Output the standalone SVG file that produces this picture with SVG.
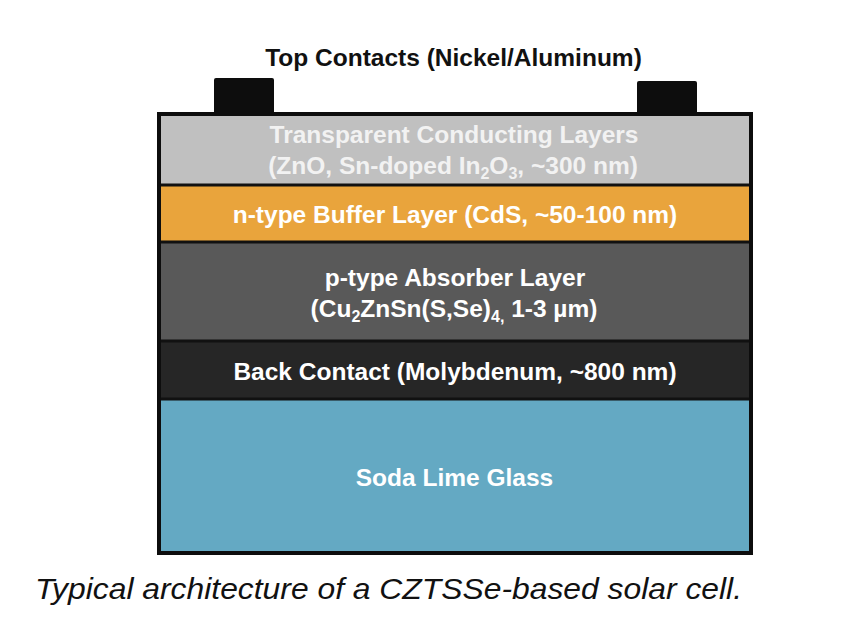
<svg xmlns="http://www.w3.org/2000/svg" width="852" height="632" viewBox="0 0 852 632">
<style>
.t{font-family:"Liberation Sans",Arial,sans-serif;font-weight:bold;font-size:24.5px;text-anchor:middle;fill:#ffffff}
.s{font-size:16px}
.sep{stroke:#111;stroke-width:3}
</style>
<rect width="852" height="632" fill="#ffffff"/>
<g id="top-contacts">
<text x="453.5" y="65.5" class="t" style="fill:#111">Top Contacts (Nickel/Aluminum)</text>
<rect x="214" y="78" width="60" height="38" rx="2" fill="#0d0d0d"/>
<rect x="637" y="81" width="60" height="35" rx="2" fill="#0d0d0d"/>
</g>
<g id="tcl">
<rect x="159" y="114" width="592" height="71" fill="#c0c0c0"/>
<text x="454" y="142.5" class="t" style="fill:#f2f2f2">Transparent Conducting Layers</text>
<text x="453" y="173.5" class="t" style="fill:#f2f2f2">(ZnO, Sn-doped In<tspan class="s" dy="5">2</tspan><tspan dy="-5">O</tspan><tspan class="s" dy="5">3</tspan><tspan dy="-5">, ~300 nm)</tspan></text>
</g>
<g id="buffer">
<rect x="159" y="185" width="592" height="57" fill="#e9a43c"/>
<text x="455" y="222.5" class="t">n-type Buffer Layer (CdS, ~50-100 nm)</text>
</g>
<g id="absorber">
<rect x="159" y="242" width="592" height="99" fill="#595959"/>
<text x="455" y="285.5" class="t">p-type Absorber Layer</text>
<text x="454" y="316.5" class="t">(Cu<tspan class="s" dy="5">2</tspan><tspan dy="-5">ZnSn(S,Se)</tspan><tspan class="s" dy="5">4,</tspan><tspan dy="-5"> 1-3 µm)</tspan></text>
</g>
<g id="back-contact">
<rect x="159" y="341" width="592" height="58" fill="#262626"/>
<text x="455" y="379.5" class="t">Back Contact (Molybdenum, ~800 nm)</text>
</g>
<g id="glass">
<rect x="159" y="399" width="592" height="154" fill="#64a9c3"/>
<text x="454.5" y="485.5" class="t">Soda Lime Glass</text>
</g>
<g id="connectors">
<line x1="159" y1="185" x2="751" y2="185" class="sep"/>
<line x1="159" y1="242" x2="751" y2="242" class="sep"/>
<line x1="159" y1="341" x2="751" y2="341" class="sep"/>
<line x1="159" y1="399" x2="751" y2="399" class="sep"/>
<rect x="159" y="114" width="592" height="439" fill="none" stroke="#0d0d0d" stroke-width="4"/>
</g>
<text x="35" y="599" font-family="Liberation Sans,Arial,sans-serif" font-style="italic" font-size="30" fill="#111" textLength="707" lengthAdjust="spacingAndGlyphs">Typical architecture of a CZTSSe-based solar cell.</text>
</svg>
